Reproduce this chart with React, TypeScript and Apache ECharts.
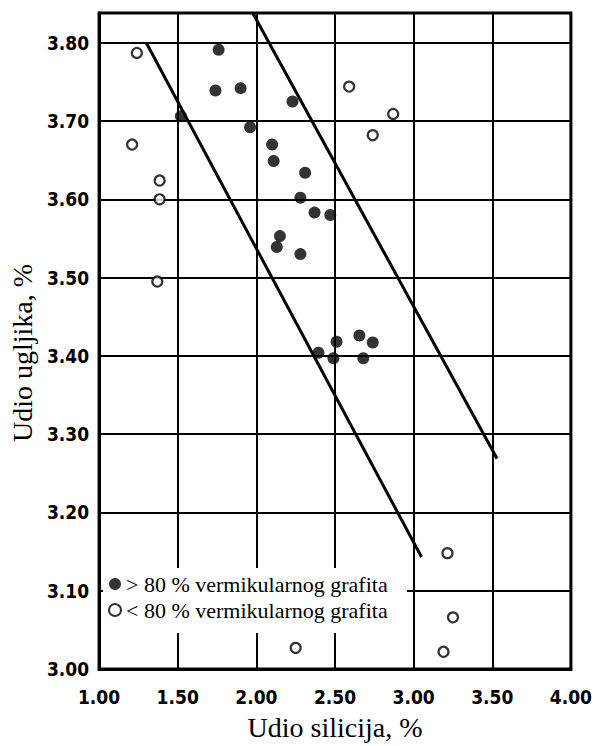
import React, { useEffect, useRef } from "react";
import * as echarts from "echarts";

// Si (%) and C (%) of samples with > 80 % vermicular graphite
const filledSi = [1.76, 1.74, 1.9, 1.52, 1.96, 2.23, 2.1, 2.11, 2.31, 2.28, 2.37, 2.47, 2.15, 2.13, 2.28, 2.395, 2.49, 2.51, 2.655, 2.74, 2.68];
const filledC = [3.791, 3.739, 3.742, 3.706, 3.692, 3.725, 3.67, 3.649, 3.634, 3.602, 3.583, 3.58, 3.553, 3.539, 3.53, 3.404, 3.397, 3.418, 3.426, 3.417, 3.397];
// samples with < 80 % vermicular graphite
const openSi = [1.24, 1.21, 1.385, 1.385, 1.37, 2.59, 2.87, 2.74, 3.215, 3.25, 3.19, 2.25];
const openC = [3.787, 3.67, 3.624, 3.6, 3.495, 3.744, 3.709, 3.682, 3.148, 3.066, 3.022, 3.027];
// boundary lines
const lowerLineSi = [1.3, 3.05];
const lowerLineC = [3.8, 3.143];
const upperLineSi = [1.977, 3.53];
const upperLineC = [3.838, 3.269];

const xTicks = [1.0, 1.5, 2.0, 2.5, 3.0, 3.5, 4.0];
const yTicks = [3.0, 3.1, 3.2, 3.3, 3.4, 3.5, 3.6, 3.7, 3.8];

const filledName = "> 80 % vermikularnog grafita";
const openName = "< 80 % vermikularnog grafita";
const xTitle = "Udio silicija, %";
const yTitle = "Udio ugljika, %";

const zip = (a: number[], b: number[]) => a.map((v, i) => [v, b[i]]);

const tickFont = "'Liberation Sans Narrow', 'Arial Narrow', 'DejaVu Sans Condensed', sans-serif";
const serif = "'Liberation Serif', 'Times New Roman', serif";

export default function App() {
  const ref = useRef<HTMLDivElement>(null);
  useEffect(() => {
    if (!ref.current) return;
    const chart = echarts.init(ref.current, null, { renderer: "svg" });
    const lineStyle = { color: "#000", width: 2 };
    chart.setOption({
      animation: false,
      backgroundColor: "#fff",
      grid: {
        left: 88,
        right: 19,
        top: 13,
        bottom: 73,
        show: true,
        borderColor: "#000",
        borderWidth: 3,
        containLabel: false,
      },
      xAxis: {
        type: "value",
        min: xTicks[0],
        max: xTicks[xTicks.length - 1],
        interval: 0.5,
        name: xTitle,
        nameLocation: "middle",
        nameGap: 44,
        nameTextStyle: { fontFamily: serif, fontSize: 28, color: "#000" },
        axisLine: { show: true, lineStyle: { color: "#000", width: 3 } },
        axisTick: { show: false },
        axisLabel: {
          margin: 18,
          fontFamily: tickFont,
          fontWeight: "bold",
          fontSize: 19,
          color: "#000",
          formatter: (v: number) => (xTicks.some((t) => Math.abs(t - v) < 1e-6) ? v.toFixed(2) : ""),
        },
        splitLine: { show: true, lineStyle },
      },
      yAxis: {
        type: "value",
        min: yTicks[0],
        max: 3.838,
        interval: 0.1,
        name: yTitle,
        nameLocation: "middle",
        nameGap: 46,
        nameTextStyle: { fontFamily: serif, fontSize: 28, color: "#000", padding: [0, 24, 0, 0] },
        axisLine: { show: true, lineStyle: { color: "#000", width: 3 } },
        axisTick: { show: false },
        axisLabel: {
          margin: 10,
          fontFamily: tickFont,
          fontWeight: "bold",
          fontSize: 19,
          color: "#000",
          formatter: (v: number) => (yTicks.some((t) => Math.abs(t - v) < 1e-6) ? v.toFixed(2) : ""),
        },
        splitLine: { show: true, lineStyle },
      },
      legend: {
        orient: "vertical",
        left: 103,
        top: 568,
        itemGap: 4,
        itemWidth: 12,
        itemHeight: 12,
        data: [filledName, openName],
        textStyle: { fontFamily: serif, fontSize: 22, color: "#000" },
        z: 5,
      },
      graphic: [
        {
          type: "rect",
          z: 4,
          shape: { x: 103, y: 568, width: 304, height: 65 },
          style: { fill: "#fff" },
        },
      ],
      series: [
        {
          name: "lower",
          type: "line",
          data: zip(lowerLineSi, lowerLineC),
          symbol: "none",
          lineStyle: { color: "#000", width: 3 },
          silent: true,
          z: 3,
        },
        {
          name: "upper",
          type: "line",
          data: zip(upperLineSi, upperLineC),
          symbol: "none",
          lineStyle: { color: "#000", width: 3 },
          silent: true,
          z: 3,
        },
        {
          name: filledName,
          type: "scatter",
          data: zip(filledSi, filledC),
          symbol: "circle",
          symbolSize: 12,
          itemStyle: { color: "#000" },
          z: 6,
        },
        {
          name: openName,
          type: "scatter",
          data: zip(openSi, openC),
          symbol: "circle",
          symbolSize: 10,
          itemStyle: { color: "#fff", borderColor: "#000", borderWidth: 2.2 },
          z: 6,
        },
      ],
    });
    return () => chart.dispose();
  }, []);
  return <div ref={ref} style={{ width: 595, height: 746, position: "absolute", left: 0, top: 0 }} />;
}
